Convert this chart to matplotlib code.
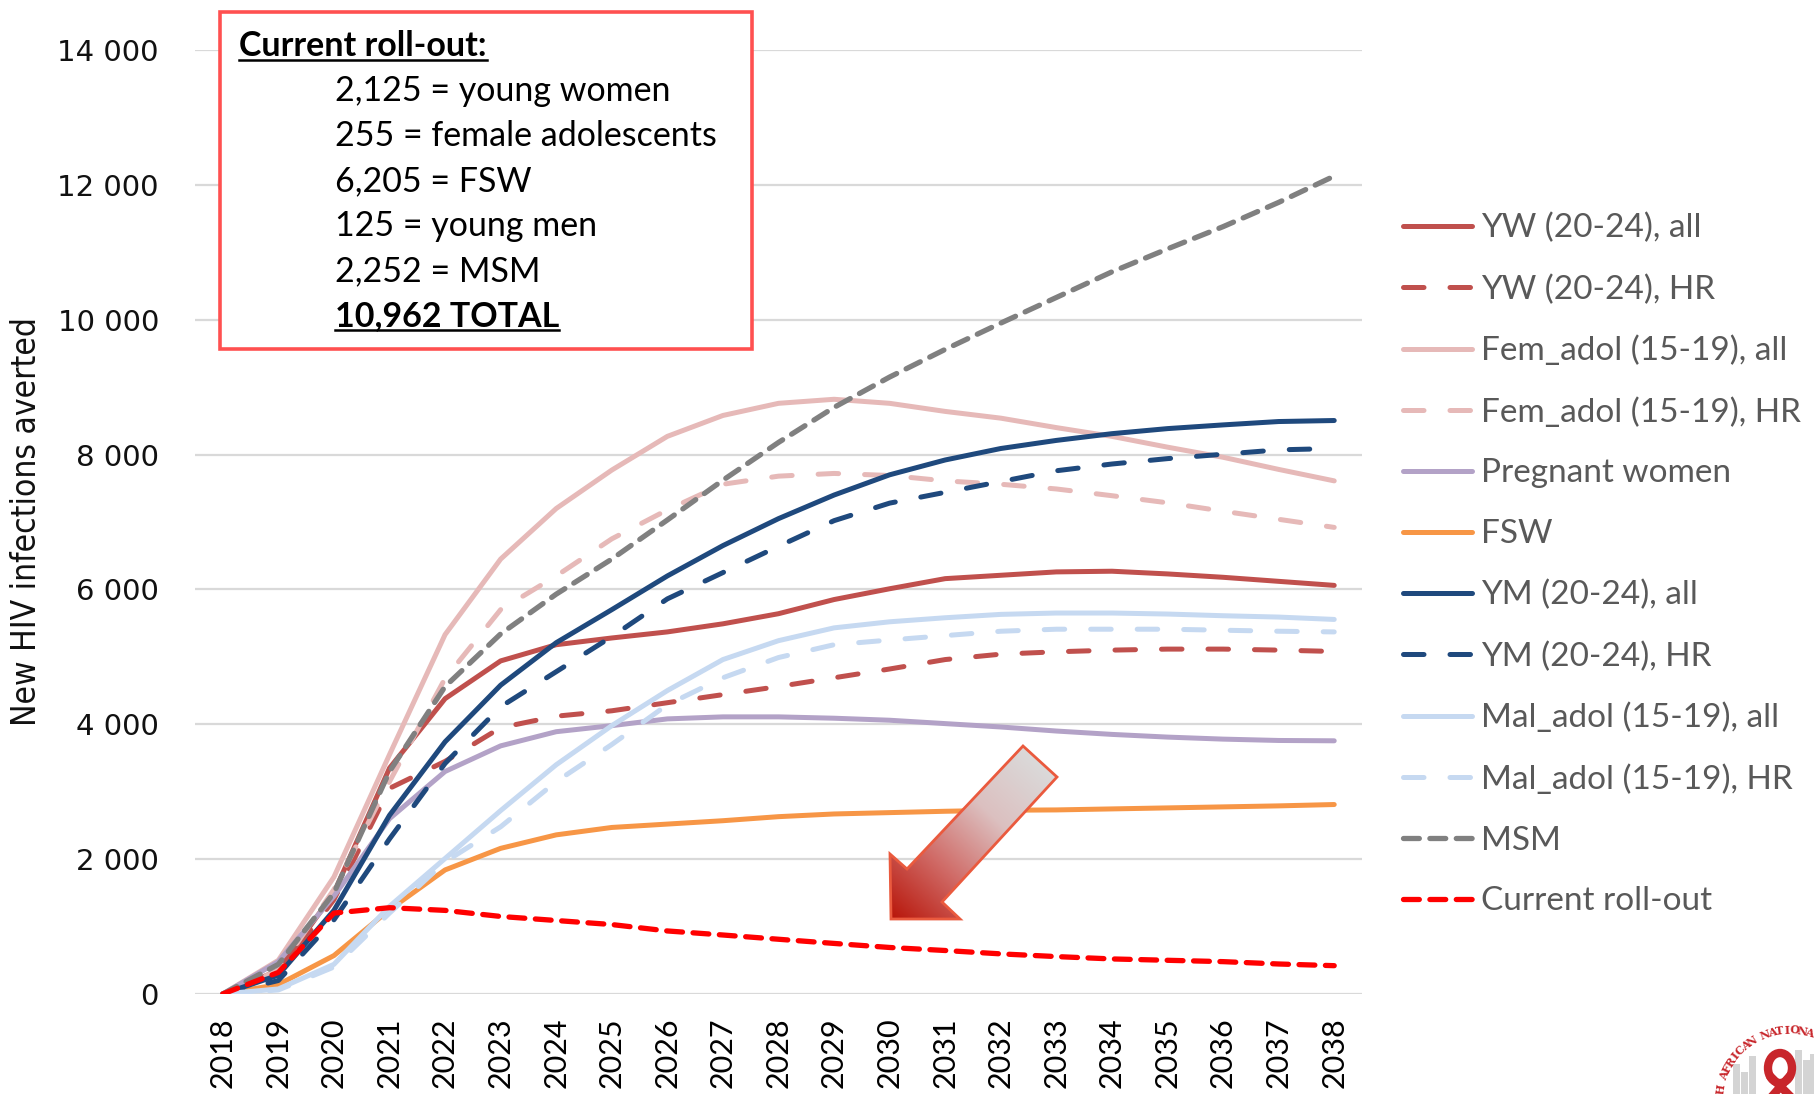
import numpy as np
import matplotlib.pyplot as plt
from matplotlib.patches import Polygon, Rectangle, Ellipse
from matplotlib.lines import Line2D
from matplotlib.colors import LinearSegmentedColormap

years = list(range(2018, 2039))

yw_all = [0, 350, 1500, 3350, 4380, 4940, 5180, 5280, 5370, 5490, 5640, 5850, 6010, 6160, 6210, 6260, 6270, 6230, 6180, 6120, 6060]
yw_hr = [0, 300, 1400, 3050, 3450, 3950, 4120, 4200, 4320, 4440, 4560, 4690, 4820, 4960, 5040, 5075, 5100, 5115, 5115, 5100, 5080]
fem_all = [0, 500, 1735, 3550, 5330, 6450, 7200, 7770, 8270, 8580, 8760, 8820, 8760, 8640, 8540, 8400, 8270, 8110, 7960, 7780, 7610]
fem_hr = [0, 350, 1550, 3150, 4680, 5700, 6200, 6750, 7180, 7560, 7680, 7720, 7690, 7610, 7560, 7490, 7390, 7285, 7160, 7040, 6920]
pregnant = [0, 480, 1450, 2600, 3300, 3680, 3890, 3980, 4080, 4110, 4110, 4090, 4060, 4010, 3960, 3900, 3850, 3810, 3780, 3760, 3755]
fsw = [0, 140, 570, 1250, 1840, 2160, 2360, 2470, 2520, 2570, 2630, 2670, 2690, 2710, 2725, 2730, 2745, 2760, 2775, 2790, 2810]
ym_all = [0, 280, 1240, 2650, 3740, 4580, 5210, 5700, 6200, 6650, 7050, 7400, 7700, 7920, 8090, 8210, 8310, 8385, 8440, 8490, 8505]
ym_hr = [0, 200, 1100, 2300, 3420, 4260, 4780, 5300, 5860, 6250, 6640, 7020, 7280, 7440, 7600, 7760, 7860, 7940, 8005, 8070, 8090]
mal_all = [0, 75, 440, 1300, 2010, 2720, 3400, 3980, 4500, 4960, 5240, 5430, 5520, 5580, 5630, 5650, 5650, 5635, 5610, 5590, 5555]
mal_hr = [0, 60, 400, 1200, 1960, 2480, 3150, 3700, 4290, 4690, 4990, 5180, 5250, 5315, 5380, 5410, 5410, 5410, 5395, 5380, 5370]
msm = [0, 440, 1500, 3300, 4560, 5340, 5930, 6450, 7030, 7620, 8180, 8700, 9150, 9560, 9950, 10330, 10710, 11050, 11380, 11740, 12130]
current = [0, 320, 1200, 1280, 1240, 1150, 1090, 1030, 935, 875, 812, 750, 690, 645, 595, 555, 520, 500, 480, 445, 420]

series = [yw_all, yw_hr, fem_all, fem_hr, pregnant, fsw, ym_all, ym_hr, mal_all, mal_hr, msm, current]
labels = ["YW (20-24), all", "YW (20-24), HR", "Fem_adol (15-19), all", "Fem_adol (15-19), HR",
          "Pregnant women", "FSW", "YM (20-24), all", "YM (20-24), HR",
          "Mal_adol (15-19), all", "Mal_adol (15-19), HR", "MSM", "Current roll-out"]
colors = ["#C0504D", "#C0504D", "#E6B9B8", "#E6B9B8", "#B3A2C7", "#F79646",
          "#1F497D", "#1F497D", "#C6D9F1", "#C6D9F1", "#808080", "#FF0000"]
styles = ["solid", "long", "solid", "long", "solid", "solid",
          "solid", "long", "solid", "long", "short", "short"]

box_title = "Current roll-out:"
box_lines = ["2,125 = young women", "255 = female adolescents", "6,205 = FSW",
             "125 = young men", "2,252 = MSM"]
box_total = "10,962 TOTAL"

W, H = 1814, 1094
fig = plt.figure(figsize=(W / 100, H / 100), dpi=100)
ax = fig.add_axes([195 / W, 1 - 994 / H, (1362 - 195) / W, (994 - 50) / H])

for vals, lab, c, st in zip(series, labels, colors, styles):
    if st == "solid":
        ax.plot(years, vals, color=c, lw=3.6, solid_capstyle="round", label=lab)
    elif st == "long":
        ax.plot(years, vals, color=c, lw=3.6, dashes=(4.1, 5.2), dash_capstyle="round", label=lab)
    else:
        ax.plot(years, vals, color=c, lw=3.8, dashes=(3.0, 2.0), dash_capstyle="round", label=lab)

ax.set_xlim(2017.5, 2038.5)
ax.set_ylim(0, 14000)
ax.set_yticks(range(0, 14001, 2000))
ax.set_yticklabels([f"{v:,}".replace(",", " ") for v in range(0, 14001, 2000)],
                   fontsize=21, family="DejaVu Sans", color="#111111")
ax.set_xticks(years)
ax.set_xticklabels([str(y) for y in years], rotation=90, fontsize=22, family="Lato")
ax.tick_params(axis="both", length=0)
ax.tick_params(axis="y", pad=26)
ax.tick_params(axis="x", pad=17)
ax.grid(axis="y", color="#D9D9D9", lw=1.6)
ax.set_axisbelow(True)
for s in ax.spines.values():
    s.set_visible(False)

fig.text(27 / W, 1 - 522 / H, "New HIV infections averted", rotation=90, ha="center", va="center",
         fontsize=24, family="DejaVu Sans", fontstretch="condensed", color="#111111")

leg = fig.legend(loc="upper left", bbox_to_anchor=(1403 / W, 1 - 213 / H), frameon=False,
                 prop={"family": "Lato", "size": 24}, labelcolor="#595959",
                 handlelength=2.07, handletextpad=0.27, labelspacing=0.925,
                 borderpad=0, borderaxespad=0)

# overlay in pixel coords for the annotations
ov = fig.add_axes([0, 0, 1, 1], zorder=5)
ov.patch.set_alpha(0)
ov.axis("off")

ov.add_patch(Rectangle((220, 12), 532, 337, fc="white", ec="#FF5050", lw=2.6, zorder=2))
t_title = ov.text(239, 56, box_title, fontsize=24.5, family="Lato", weight="bold", va="baseline", zorder=3)
for i, line in enumerate(box_lines):
    ov.text(335, 101 + i * 45, line, fontsize=24.5, family="Lato", va="baseline", zorder=3)
t_total = ov.text(335, 326, box_total, fontsize=24.5, family="Lato", weight="bold", va="baseline", zorder=3)

# block arrow with gradient fill
pts = np.array([[891, 919], [890, 854], [907, 869], [1023, 746], [1057, 777], [942, 902], [960, 919]])
x0, x1, y0, y1 = 880, 1070, 735, 930
xx, yy = np.meshgrid(np.linspace(x0, x1, 240), np.linspace(y0, y1, 240))
d = np.array([1040 - 891, 761 - 919], dtype=float)
L = np.linalg.norm(d)
d = d / L
tt = np.clip(((xx - 891) * d[0] + (yy - 919) * d[1]) / L, 0, 1)
cmap = LinearSegmentedColormap.from_list("arr", ["#B8160A", "#D06A66", "#DCC0C0", "#DADADA"])
im = ov.imshow(tt, extent=(x0, x1, y1, y0), cmap=cmap, vmin=0, vmax=1, origin="upper",
               aspect="auto", interpolation="bilinear", zorder=4)
arrow = Polygon(pts, closed=True, fc="none", ec="#EA5A3E", lw=2, zorder=5)
ov.add_patch(arrow)
im.set_clip_path(arrow)

# logo corner (partly cut off, as in the slide)
for k, (bx, bh) in enumerate([(1733, 30), (1741, 22), (1749, 38), (1795, 44), (1803, 34), (1810, 40)]):
    ov.add_patch(Rectangle((bx, H - bh), 7, bh, fc="#D4D4D4", ec="none", zorder=3))
ov.add_patch(Ellipse((1780, 1068), 24, 30, fc="none", ec="#C8262B", lw=6, zorder=4))
ov.add_line(Line2D([1772, 1788], [1078, 1094], color="#C8262B", lw=6, zorder=4))
ov.add_line(Line2D([1788, 1774], [1078, 1094], color="#C8262B", lw=6, zorder=4))
logo_txt = "SOUTH AFRICAN NATIONAL"
cx, cy, r = 1790, 1100, 70
for k, ch in enumerate(logo_txt):
    a = np.deg2rad(196 - k * 6.1)
    px, py = cx + r * np.cos(a), cy - r * np.sin(a)
    if px > W - 4 or py > H - 4:
        continue
    ov.text(px, py, ch, fontsize=8, weight="bold", family="DejaVu Serif", color="#C8262B",
            ha="center", va="center", rotation=np.rad2deg(a) - 90, zorder=4)

ov.set_xlim(0, W)
ov.set_ylim(H, 0)

fig.canvas.draw()
r_ = fig.canvas.get_renderer()
inv = ov.transData.inverted()
for t in [t_title, t_total]:
    bb = t.get_window_extent(r_)
    (bx0, _), (bx1, _) = inv.transform([(bb.x0, bb.y0), (bb.x1, bb.y0)])
    by = t.get_position()[1] + 4
    ov.add_line(Line2D([bx0, bx1], [by, by], color="black", lw=1.8, zorder=3))

fig.savefig("out.png", dpi=100)
